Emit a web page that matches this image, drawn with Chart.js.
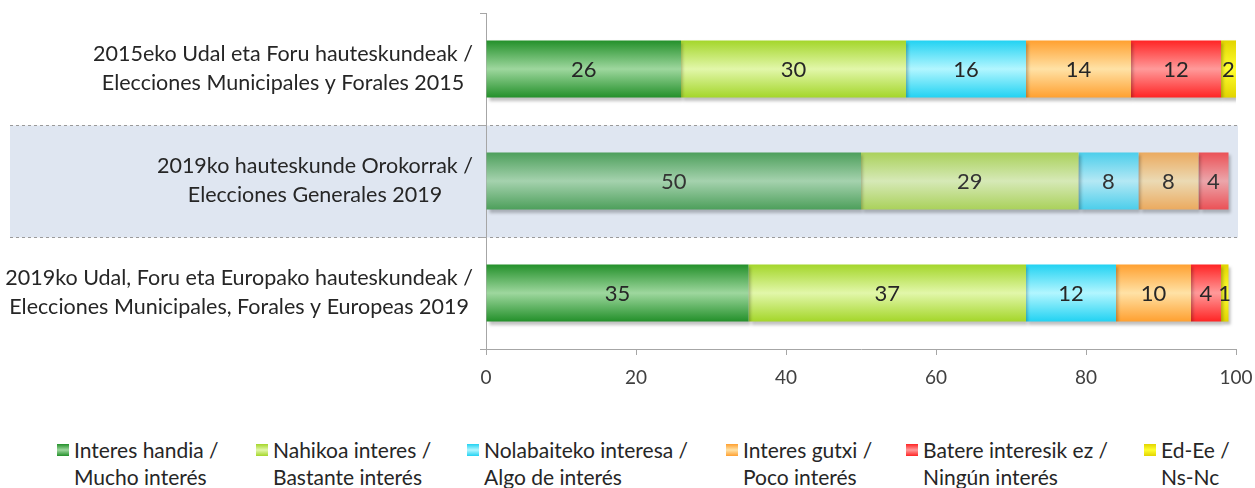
<!DOCTYPE html>
<html><head><meta charset="utf-8">
<script src="https://cdn.jsdelivr.net/npm/chart.js@4"></script>
<style>
html,body{margin:0;padding:0;background:#fff;}
#wrap{position:relative;width:1255px;height:488px;font-family:Lato, sans-serif;overflow:hidden;}
#cw{position:absolute;left:0;top:0;width:1255px;height:420px;}
#legend{position:absolute;left:0;top:436px;width:1255px;height:52px;}
.li{position:absolute;top:0;font-size:21px;color:#262626;line-height:27px;}
.box{position:absolute;left:0;top:8px;width:12px;height:12px;}
.txt{position:absolute;left:17px;top:0;white-space:nowrap;}
</style>
</head><body>
<div id="wrap">
  <div id="cw"><canvas id="c"></canvas></div>
  <div id="legend"></div>
</div>
<script>
// ---- data ----
const categories = [
  ["2015eko Udal eta Foru hauteskundeak /", "Elecciones Municipales y Forales 2015"],
  ["2019ko hauteskunde Orokorrak /", "Elecciones Generales 2019"],
  ["2019ko Udal, Foru eta Europako hauteskundeak /", "Elecciones Municipales, Forales y Europeas 2019"]
];
const seriesNames = [
  ["Interes handia /", "Mucho interés"],
  ["Nahikoa interes /", "Bastante interés"],
  ["Nolabaiteko interesa /", "Algo de interés"],
  ["Interes gutxi /", "Poco interés"],
  ["Batere interesik ez /", "Ningún interés"],
  ["Ed-Ee /", "Ns-Nc"]
];
const interesHandia   = [26, 50, 35];
const nahikoaInteres  = [30, 29, 37];
const nolabaiteko     = [16, 8, 12];
const interesGutxi    = [14, 8, 10];
const batereInteresik = [12, 4, 4];
const edEe            = [2, 0, 1];
const xTicks = [0, 20, 40, 60, 80, 100];

// ---- styles ----
const edgeColors   = ["#23902a", "#a4d62a", "#22d2f2", "#ffa030", "#ff2424", "#e2d400"];
const centerColors = ["#9ed79e", "#e2f7aa", "#b2f6ff", "#ffe2a6", "#ff9a9a", "#ffff30"];
const legendX = [57, 256, 467, 726, 906, 1144];
const bandColor = "#dfe6f1";
const bandRow = 1;
const barPct = 0.51;

function hex2rgb(h){h=h.replace('#','');return [parseInt(h.substr(0,2),16),parseInt(h.substr(2,2),16),parseInt(h.substr(4,2),16)];}
function mix(a,b,t){const A=hex2rgb(a),B=hex2rgb(b);return 'rgb('+A.map((v,i)=>Math.round(v*(1-t)+B[i]*t)).join(',')+')';}
const overlayColor = "#b8c4d8";

function grad(si){
  return function(ctx){
    const chart = ctx.chart, ys = chart.scales.y;
    if(!ys || !chart.chartArea) return edgeColors[si];
    const c = ys.getPixelForValue(ctx.dataIndex);
    const half = (ys.height / categories.length) * barPct / 2;
    const t = ctx.dataIndex === bandRow ? 0.28 : 0;
    const g = chart.ctx.createLinearGradient(0, c - half, 0, c + half);
    g.addColorStop(0, mix(edgeColors[si], overlayColor, t));
    g.addColorStop(0.5, mix(centerColors[si], overlayColor, t));
    g.addColorStop(1, mix(edgeColors[si], overlayColor, t));
    return g;
  };
}

const seriesValues = [interesHandia, nahikoaInteres, nolabaiteko, interesGutxi, batereInteresik, edEe];

const bandPlugin = {
  id: 'band',
  beforeDraw(chart){
    const ys = chart.scales.y, ctx = chart.ctx;
    const step = ys.height / categories.length;
    const c = ys.getPixelForValue(bandRow);
    const top = Math.round(c - step/2) + 0.5, bot = Math.round(c + step/2) + 0.5;
    ctx.save();
    ctx.fillStyle = bandColor;
    ctx.fillRect(10, top, 1228, bot - top);
    ctx.strokeStyle = '#9a9a9a';
    ctx.lineWidth = 1;
    ctx.setLineDash([3,3]);
    ctx.beginPath();
    ctx.moveTo(10, top); ctx.lineTo(1238, top);
    ctx.moveTo(10, bot); ctx.lineTo(1238, bot);
    ctx.stroke();
    ctx.restore();
  },
  beforeDatasetsDraw(chart){
    const ctx = chart.ctx;
    ctx.save();
    ctx.shadowColor = 'rgba(0,0,0,0.25)';
    ctx.shadowOffsetX = 2; ctx.shadowOffsetY = 3; ctx.shadowBlur = 3;
  },
  afterDatasetsDraw(chart){
    const ctx = chart.ctx;
    ctx.restore();
    ctx.save();
    // value labels
    ctx.font = '22px Lato';
    ctx.textAlign = 'center'; ctx.textBaseline = 'middle';
    chart.data.datasets.forEach((ds, di) => {
      const meta = chart.getDatasetMeta(di);
      meta.data.forEach((el, i) => {
        const v = ds.data[i];
        if(!v) return;
        ctx.fillStyle = i === bandRow ? '#333333' : '#262626';
        ctx.fillText(String(v), (el.x + el.base)/2, el.y + 1);
      });
    });
    // category labels (block right-aligned, lines centered)
    const ys = chart.scales.y;
    ctx.font = '21.5px Lato';
    ctx.fillStyle = '#262626';
    const lineH = 29, rightEdge = 473;
    categories.forEach((lines, i) => {
      const w = Math.max(...lines.map(l => ctx.measureText(l).width));
      const cx = rightEdge - w/2;
      const cy = ys.getPixelForValue(i);
      lines.forEach((l, k) => {
        ctx.fillText(l, cx, cy + (k - (lines.length-1)/2) * lineH);
      });
    });
    ctx.restore();
  }
};

new Chart(document.getElementById('c'), {
  type: 'bar',
  data: {
    labels: categories.map(c => c.join(' ')),
    datasets: seriesValues.map((vals, si) => ({
      label: seriesNames[si].join(' '),
      data: vals,
      backgroundColor: grad(si),
      borderWidth: 0,
      barPercentage: barPct,
      categoryPercentage: 1
    }))
  },
  options: {
    indexAxis: 'y',
    responsive: true,
    maintainAspectRatio: false,
    animation: false,
    layout: { padding: { top: 13, right: 19, left: 0, bottom: 0 } },
    plugins: { legend: { display: false }, tooltip: { enabled: false } },
    scales: {
      x: {
        stacked: true, min: 0, max: 100,
        afterBuildTicks(s){ s.ticks = xTicks.map(v => ({value: v})); },
        ticks: { font: { family: 'Lato', size: 19 }, color: '#404040', padding: 11 },
        grid: { drawOnChartArea: false, drawTicks: true, tickLength: 6, color: '#a6a6a6' },
        border: { color: '#a6a6a6' },
        afterFit(s){ s.height = 71; s.paddingLeft = 0; s.paddingRight = 0; }
      },
      y: {
        stacked: true,
        ticks: { display: false },
        grid: { drawOnChartArea: false, offset: true, tickLength: 6, color: '#a6a6a6' },
        border: { color: '#a6a6a6' },
        afterFit(s){ s.width = 486; }
      }
    }
  },
  plugins: [bandPlugin]
});

// legend
const lg = document.getElementById('legend');
seriesNames.forEach((lines, si) => {
  const d = document.createElement('div');
  d.className = 'li';
  d.style.left = legendX[si] + 'px';
  const b = document.createElement('div');
  b.className = 'box';
  b.style.background = 'linear-gradient(to bottom,' + edgeColors[si] + ',' + centerColors[si] + ' 50%,' + edgeColors[si] + ')';
  d.appendChild(b);
  const t = document.createElement('div');
  t.className = 'txt';
  t.innerHTML = lines.map(l => l.replace(/&/g,'&amp;').replace(/</g,'&lt;')).join('<br>');
  d.appendChild(t);
  lg.appendChild(d);
});
</script>
</body></html>
